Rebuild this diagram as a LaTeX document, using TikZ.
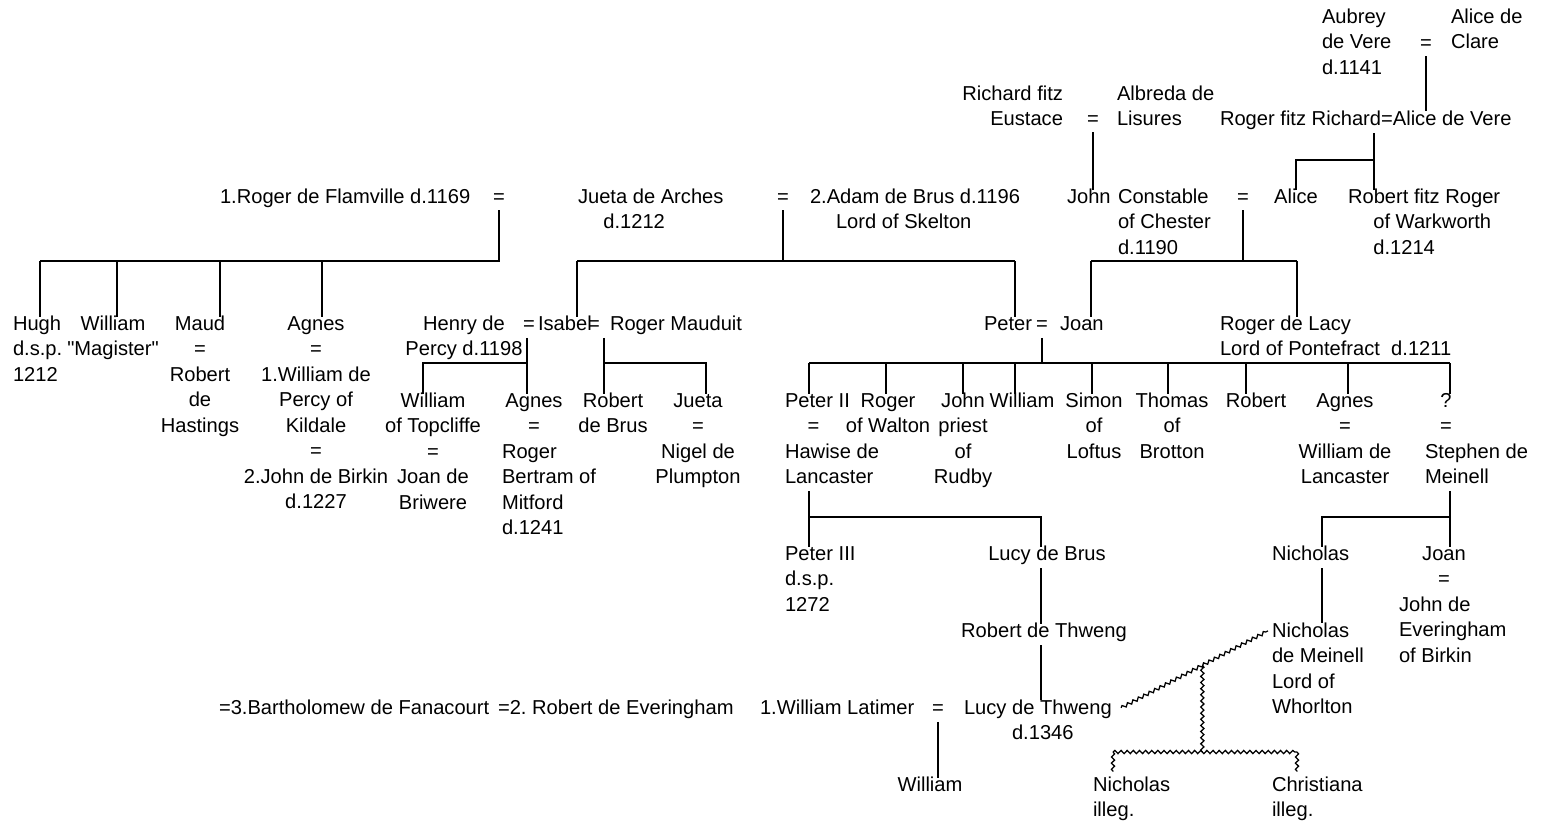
\documentclass[tikz,border=0pt]{standalone}
\usepackage{fontspec}
\setmainfont{Liberation Sans}
\newfontfamily\famface{Liberation Sans}
\usetikzlibrary{decorations.pathmorphing,calc}
\newcommand\famfont{\famface\fontsize{15.1}{19.1}\selectfont\frenchspacing}
\newcommand\fl{\rule{0pt}{12pt}}
\begin{document}
\begin{tikzpicture}[x=0.75pt,y=-0.75pt,
  every node/.style={inner sep=0pt, outer sep=0pt, font=\famfont, text=black},
  person/.style={align=center, anchor=north, yshift=12pt},
  personl/.style={align=left, anchor=north west, yshift=12pt},
  personr/.style={align=right, anchor=north east, yshift=12pt},
  marr/.style={anchor=base},
  line/.style={draw=black, line width=0.95pt},
  kid/.style={shorten >=-1.8pt},
  wavy/.style={draw=black, line width=0.95pt, decorate, decoration={snake, amplitude=1.2pt, segment length=4.6pt}},
]
\fill[white] (0,0) rectangle (1541,822);
\useasboundingbox (0,0) rectangle (1541,822);

% ---------- top generations ----------
\node[personl] (aubrey) at (1322,23.5) {\fl Aubrey\\de Vere\\d.1141};
\node[marr] (eqAV) at (1426,49.5) {=};
\node[personl] (aliceC) at (1451,23.5) {\fl Alice de\\Clare};
\node[personr] (richard) at (1063,100.5) {\fl Richard fitz\\Eustace};
\node[marr] (eqRE) at (1093,125.5) {=};
\node[personl] (albreda) at (1117,100.5) {\fl Albreda de\\Lisures};
\node[personl] (rogerA) at (1220,125.5) {\fl Roger fitz Richard=Alice de Vere};

% ---------- row 196 ----------
\node[personl] (flam) at (220,203.5) {\fl 1.Roger de Flamville d.1169};
\node[marr] (eqF) at (499,203.5) {=};
\node[personl] (juetaA) at (578,203.5) {\fl Jueta de Arches\\\hspace*{19pt}d.1212};
\node[marr] (eqJ) at (783,203.5) {=};
\node[personl] (adam) at (810,203.5) {\fl 2.Adam de Brus d.1196\\\hspace*{19.5pt}Lord of Skelton};
\node[personl] (john) at (1067,203.5) {\fl John};
\node[personl] (constable) at (1118,203.5) {\fl Constable\\of Chester\\d.1190};
\node[marr] (eqJA) at (1243,203.5) {=};
\node[person] (alice) at (1296,203.5) {\fl Alice};
\node[personl] (robertFR) at (1348,203.5) {\fl Robert fitz Roger\\\hspace*{19pt}of Warkworth\\\hspace*{19pt}d.1214};

% ---------- row 323 ----------
\node[personl] (hugh) at (13,330.5) {\fl Hugh\\d.s.p.\\1212};
\node[person] (williamM) at (113,330.5) {\fl William\\"Magister"};
\node[person] (maud) at (200,330.5) {\fl Maud\\=\\Robert\\de\\Hastings};
\node[person] (agnesF) at (316,330.5) {\fl Agnes\\=\\1.William de\\Percy of\\Kildale\\=\\2.John de Birkin\\d.1227};
\node[person] (henry) at (464,330.5) {\fl Henry de\\Percy d.1198};
\node[personl] (eqHI) at (523,330.5) {\fl =};
\node[personl] (isabel) at (538,330.5) {\fl Isabel};
\node[personl] (eqIR) at (588,330.5) {\fl =};
\node[personl] (mauduit) at (610,330.5) {\fl Roger Mauduit};
\node[personl] (peter) at (984,330.5) {\fl Peter};
\node[marr] (eqPJ) at (1042,330.5) {=};
\node[personl] (joan) at (1060,330.5) {\fl Joan};
\node[personl] (lacy) at (1220,330.5) {\fl Roger de Lacy\\Lord of Pontefract\ \ d.1211};

% ---------- row 400 ----------
\node[person] (wTop) at (433,407.5) {\fl William\\of Topcliffe\\=\\Joan de\\Briwere};
\node[person] (agnesB) at (534,407.5) {\fl Agnes\\=};
\node[personl] (bertram) at (502,458.5) {\fl Roger\\Bertram of\\Mitford\\d.1241};
\node[person] (robertB) at (613,407.5) {\fl Robert\\de Brus};
\node[person] (juetaB) at (698,407.5) {\fl Jueta\\=\\Nigel de\\Plumpton};
\node[personl] (peter2) at (785,407.5) {\fl Peter II\\\hspace*{17pt}=\\Hawise de\\Lancaster};
\node[person] (rogerW) at (888,407.5) {\fl Roger\\of Walton};
\node[person] (johnP) at (963,407.5) {\fl John\\priest\\of\\Rudby};
\node[person] (williamP) at (1022,407.5) {\fl William};
\node[person] (simon) at (1094,407.5) {\fl Simon\\of\\Loftus};
\node[person] (thomas) at (1172,407.5) {\fl Thomas\\of\\Brotton};
\node[person] (robertP) at (1256,407.5) {\fl Robert};
\node[person] (agnesL) at (1345,407.5) {\fl Agnes\\=\\William de\\Lancaster};
\node[person] (unknown) at (1446,407.5) {\fl ?\\=};
\node[personl] (stephen) at (1425,458.5) {\fl Stephen de\\Meinell};

% ---------- row 553 ----------
\node[personl] (peter3) at (785,560.5) {\fl Peter III\\d.s.p.\\1272};
\node[person] (lucyB) at (1047,560.5) {\fl Lucy de Brus};
\node[personl] (nicholas1) at (1272,560.5) {\fl Nicholas};
\node[person] (joan2) at (1444,560.5) {\fl Joan\\=};
\node[personl] (everingham) at (1399,611.5) {\fl John de\\Everingham\\of Birkin};

% ---------- row 630 ----------
\node[person] (robertT) at (1044,637.5) {\fl Robert de Thweng};
\node[personl] (nicholas2) at (1272,637.5) {\fl Nicholas\\de Meinell\\Lord of\\Whorlton};

% ---------- row 707 ----------
\node[personl] (fanacourt) at (219,714.5) {\fl =3.Bartholomew de Fanacourt};
\node[personl] (everingham2) at (498,714.5) {\fl =2. Robert de Everingham};
\node[personl] (latimer) at (760,714.5) {\fl 1.William Latimer};
\node[marr] (eqLL) at (938,714.5) {=};
\node[personl] (lucyT) at (964,714.5) {\fl Lucy de Thweng\\\hspace*{36pt}d.1346};

% ---------- row 784 ----------
\node[person] (williamL) at (930,791.5) {\fl William};
\node[personl] (nicholas3) at (1093,791.5) {\fl Nicholas\\illeg.};
\node[personl] (christiana) at (1272,791.5) {\fl Christiana\\illeg.};

% ---------- junction coordinates ----------
\coordinate (cRF) at (1374,160);
\coordinate (dHugh) at (40,261);
\coordinate (dWill) at (117,261);
\coordinate (dMaud) at (220,261);
\coordinate (dAgF) at (322,261);
\coordinate (dIsa) at (577,261);
\coordinate (dPeter) at (1015,261);
\coordinate (dJoan) at (1091,261);
\coordinate (dLacy) at (1297,261);
\coordinate (dWT) at (423,363);
\coordinate (dAgB) at (527,363);
\coordinate (dRB) at (604,363);
\coordinate (dJu) at (706,363);
\coordinate (k1) at (809,363);
\coordinate (k2) at (886,363);
\coordinate (k3) at (963,363);
\coordinate (k4) at (1015,363);
\coordinate (k5) at (1092,363);
\coordinate (k6) at (1168,363);
\coordinate (k7) at (1246,363);
\coordinate (k8) at (1348,363);
\coordinate (k9) at (1450,363);
\coordinate (dP3) at (809,517);
\coordinate (dLB) at (1041,517);
\coordinate (dNi) at (1322,517);
\coordinate (dJo) at (1450,517);

% ---------- connectors ----------
\draw[line, shorten <=5pt, shorten >=-1.1pt] (eqAV.base) -- (eqAV.base |- rogerA.north);
\draw[line, kid, shorten <=5pt] (eqRE.base) -- (eqRE.base |- john.north);
\draw[line, kid, shorten <=2.5pt] (rogerA.south -| cRF) -- (cRF |- robertFR.north);
\draw[line, kid] (cRF) -| (alice.north);

% Flamville children
\draw[line, shorten <=5pt] (eqF.base) |- (dHugh);
\foreach \c/\n in {dHugh/hugh, dWill/williamM, dMaud/maud, dAgF/agnesF}
  \draw[line, kid] (\c) -- (\c |- \n.north);

% de Brus children
\draw[line, shorten <=5pt] (eqJ.base) -- (eqJ.base |- dIsa);
\draw[line] (dIsa) -- (dPeter);
\draw[line, kid] (dIsa) -- (dIsa |- isabel.north);
\draw[line, kid] (dPeter) -- (dPeter |- peter.north);

% John Constable = Alice
\draw[line, shorten <=5pt] (eqJA.base) -- (eqJA.base |- dJoan);
\draw[line] (dJoan) -- (dLacy);
\draw[line, kid] (dJoan) -- (dJoan |- joan.north);
\draw[line, kid] (dLacy) -- (dLacy |- lacy.north);

% Henry de Percy = Isabel
\draw[line, kid, shorten <=5.5pt] (eqHI.base -| dAgB) -- (dAgB |- agnesB.north);
\draw[line, kid] (dAgB) -- (dWT) -- (dWT |- wTop.north);

% Isabel = Roger Mauduit
\draw[line, kid, shorten <=5.5pt] (eqIR.base -| dRB) -- (dRB |- robertB.north);
\draw[line, kid] (dRB) -- (dJu) -- (dJu |- juetaB.north);

% Peter = Joan
\draw[line, shorten <=5.5pt] (eqPJ.base) -- (eqPJ.base |- k1);
\draw[line] (k1) -- (k9);
\foreach \c/\n in {k1/peter2, k2/rogerW, k3/johnP, k4/williamP, k5/simon, k6/thomas, k7/robertP, k8/agnesL, k9/unknown}
  \draw[line, kid] (\c) -- (\c |- \n.north);

% Peter II = Hawise
\draw[line, kid, shorten <=5.5pt] (peter2.south -| dP3) -- (dP3 |- peter3.north);
\draw[line, kid] (dP3) -- (dLB) -- (dLB |- lucyB.north);
\draw[line, kid, shorten <=2.5pt] (lucyB.south -| dLB) -- (dLB |- robertT.north);
\draw[line, shorten <=2.5pt, shorten >=-1.1pt] (robertT.south -| dLB) -- (dLB |- lucyT.north);

% Latimer = Lucy de Thweng
\draw[line, kid, shorten <=5.5pt] (eqLL.base) -- (eqLL.base |- williamL.north);

% Stephen de Meinell
\draw[line, kid, shorten <=5pt] (stephen.south -| dJo) -- (dJo |- joan2.north);
\draw[line, kid] (dJo) -- (dNi) -- (dNi |- nicholas1.north);
\draw[line, shorten <=5.5pt, shorten >=-1.1pt] (nicholas1.south -| dNi) -- (dNi |- nicholas2.north);

% illegitimate (wavy) lines
\coordinate (wA) at ([xshift=7pt,yshift=-7pt]lucyT.north east);
\coordinate (wB) at ([xshift=-3pt,yshift=-7pt]nicholas2.north west);
\coordinate (wJ) at ($(wA)!0.553!(wB)$);
\coordinate (wBar) at (1200,752);
\coordinate (wN) at (1113,752);
\coordinate (wC) at (1297,752);
\draw[wavy] (wA) -- (wB);
\draw[wavy] (wJ) -- (wJ |- wBar);
\draw[wavy] (wN) -- (wC);
\draw[wavy] (wN) -- ([yshift=3pt]wN |- nicholas3.north);
\draw[wavy] (wC) -- ([yshift=3pt]wC |- christiana.north);
\end{tikzpicture}
\end{document}
